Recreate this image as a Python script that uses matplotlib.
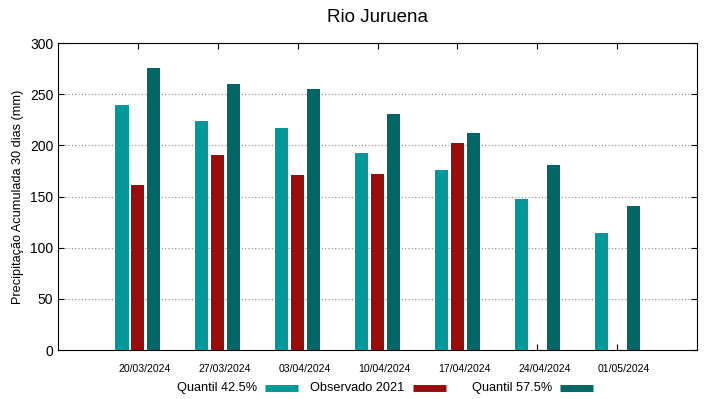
import numpy as np
import matplotlib
matplotlib.use('Agg')
import matplotlib.pyplot as plt
import matplotlib.transforms as mtransforms
from matplotlib.lines import Line2D

plt.rcParams['font.family'] = ['Liberation Sans', 'DejaVu Sans']

# dados
datas = ['20/03/2024', '27/03/2024', '03/04/2024', '10/04/2024',
         '17/04/2024', '24/04/2024', '01/05/2024']
quantil_425 = [239, 224, 217, 193, 176, 148, 114]
observado = [161, 190.5, 171, 172.5, 202, np.nan, np.nan]
quantil_575 = [275.5, 260, 255, 231, 212, 181, 141]

series = ['Quantil 42.5%', 'Observado 2021', 'Quantil 57.5%']
cores = ['#009999', '#990c0c', '#006666']

fig, ax = plt.subplots(figsize=(7.19, 3.99), dpi=100)
fig.subplots_adjust(left=0.0807, right=0.9694, top=0.892, bottom=0.1228)

x = np.arange(1, len(datas) + 1)
larg = 0.165
desl = 0.2

ax.bar(x - desl, quantil_425, larg, color=cores[0], zorder=3)
ax.bar(x, observado, larg, color=cores[1], zorder=3)
ax.bar(x + desl, quantil_575, larg, color=cores[2], zorder=3)

ax.set_xlim(0, 8)
ax.set_ylim(0, 300)
ax.set_yticks(range(0, 301, 50))
ax.set_xticks(x)
ax.set_xticklabels(datas, fontsize=7.6)
ax.tick_params(axis='y', labelsize=10, direction='in', right=True, length=4)
ax.tick_params(axis='x', direction='in', top=True, length=4, pad=10)
ax.yaxis.grid(True, linestyle=(0, (1, 2)), color='#888888', linewidth=0.8, zorder=0)

# rotulos do eixo x levemente deslocados para a direita (como no original)
desloc = mtransforms.ScaledTranslation(0.07, 0, fig.dpi_scale_trans)
for lbl in ax.get_xticklabels():
    lbl.set_transform(lbl.get_transform() + desloc)

ax.set_title('Rio Juruena', fontsize=13.5, pad=15.5)
ax.set_ylabel('Precipitação Acumulada 30 dias (mm)', fontsize=9.2)

# legenda no estilo gnuplot: texto a esquerda, amostra a direita, colunas fixas
W, H = 719, 399
y_leg = 1 - 388 / H
for i, (nome, cor) in enumerate(zip(series, cores)):
    fim = 298 + 147.5 * i
    ini = fim - 33
    fig.add_artist(Line2D([ini / W, fim / W], [y_leg, y_leg], color=cor, lw=5,
                          solid_capstyle='butt', transform=fig.transFigure))
    fig.text((ini - 8) / W, y_leg, nome, ha='right', va='center', fontsize=9.2)

plt.savefig('out.png', dpi=100)
